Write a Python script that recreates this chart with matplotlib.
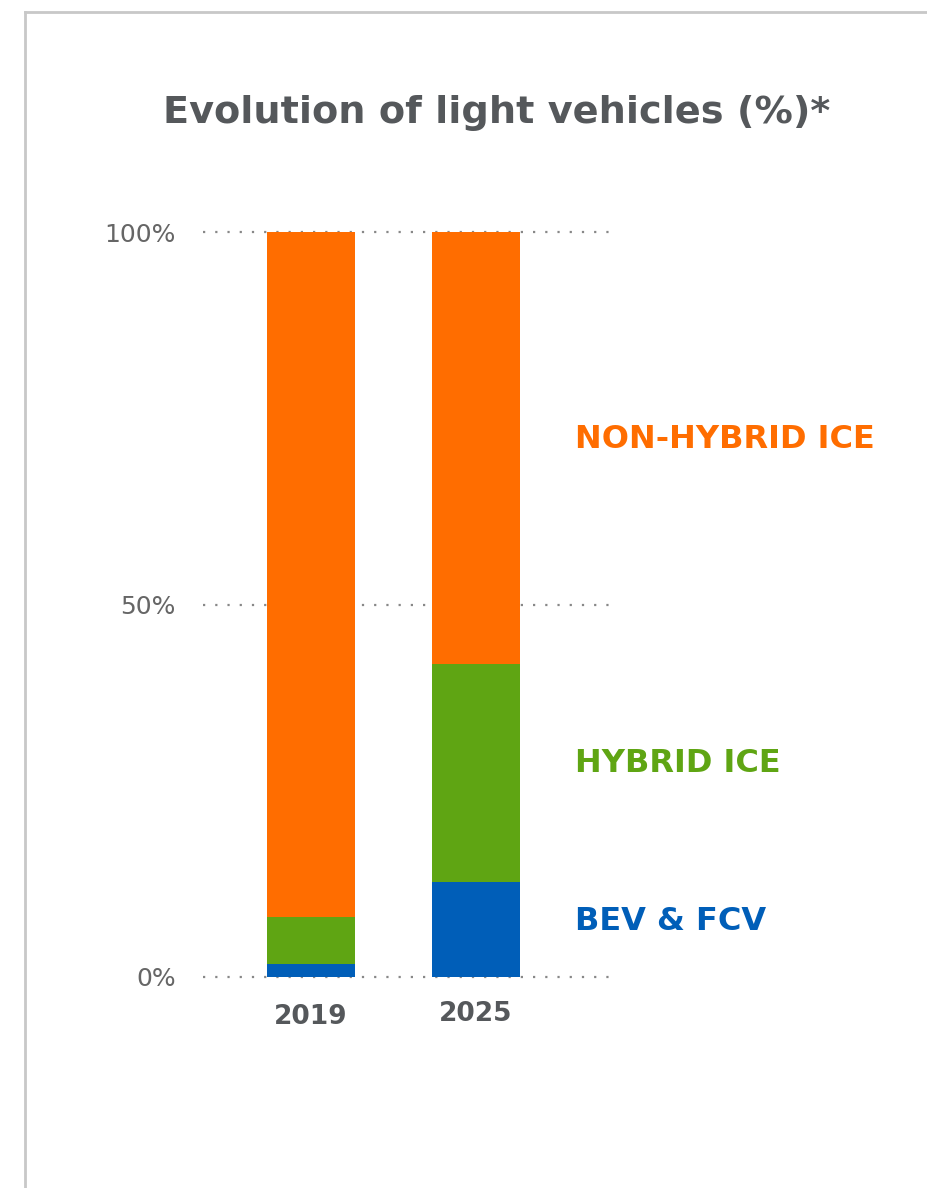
import matplotlib
matplotlib.use("Agg")
import matplotlib.pyplot as plt
from matplotlib.lines import Line2D
import numpy as np

# data
years = ["2019", "2025"]
bev_fcv = [1.7, 12.8]
hybrid = [6.3, 29.2]
non_hybrid = [92.0, 58.0]
series_names = ["NON-HYBRID ICE", "HYBRID ICE", "BEV & FCV"]
yticks = [0, 50, 100]
ytick_labels = ["0%", "50%", "100%"]

c_orange = "#FF6D00"
c_green = "#5FA513"
c_blue = "#005EB8"
c_text = "#55585B"
FONT = ["DejaVu Sans"]

W, H = 927, 1188
fig = plt.figure(figsize=(W / 100, H / 100), dpi=100)
fig.patch.set_facecolor("white")

# gray frame (top + left)
fig.add_artist(Line2D([25 / W, 1], [1 - 12 / H, 1 - 12 / H], color="#c8c8c8", lw=2))
fig.add_artist(Line2D([25 / W, 25 / W], [0, 1 - 12 / H], color="#c8c8c8", lw=2))

fig.text(497 / W, 1 - 113 / H, "Evolution of light vehicles (%)*", ha="center", va="center",
         fontsize=27.5, fontweight="bold", color=c_text, family=FONT)

ax = fig.add_axes([203 / W, 1 - 977 / H, 412 / W, 745 / H])
x = np.arange(len(years))
bw = 0.533
b1 = np.array(bev_fcv)
b2 = b1 + np.array(hybrid)
ax.bar(x, bev_fcv, width=bw, color=c_blue, zorder=2)
ax.bar(x, hybrid, width=bw, bottom=b1, color=c_green, zorder=2)
ax.bar(x, non_hybrid, width=bw, bottom=b2, color=c_orange, zorder=2)

ax.set_xlim(-0.6545, 1.842)
ax.set_ylim(0, 100)
for yv in yticks:
    ax.axhline(yv, color="#888888", lw=1.6, linestyle=(0, (1, 4.5)), zorder=1, clip_on=False)
for s in ax.spines.values():
    s.set_visible(False)
ax.set_yticks(yticks)
ax.set_yticklabels(ytick_labels, fontsize=18, color="#666666", family=FONT)
ax.tick_params(axis="y", length=0, pad=19.5)
ax.set_xticks([])
for i, yr in enumerate(years):
    ax.text(x[i], -5.4 + (0.5 if i else 0), yr, ha="center", va="center", fontsize=19,
            fontweight="bold", color=c_text, family=FONT)

label_y = [440, 763, 921]
label_c = [c_orange, c_green, c_blue]
for name, yp, c in zip(series_names, label_y, label_c):
    fig.text(575 / W, 1 - yp / H, name, ha="left", va="center", fontsize=23,
             fontweight="bold", color=c, family=FONT)

fig.savefig("out.png", dpi=100)
